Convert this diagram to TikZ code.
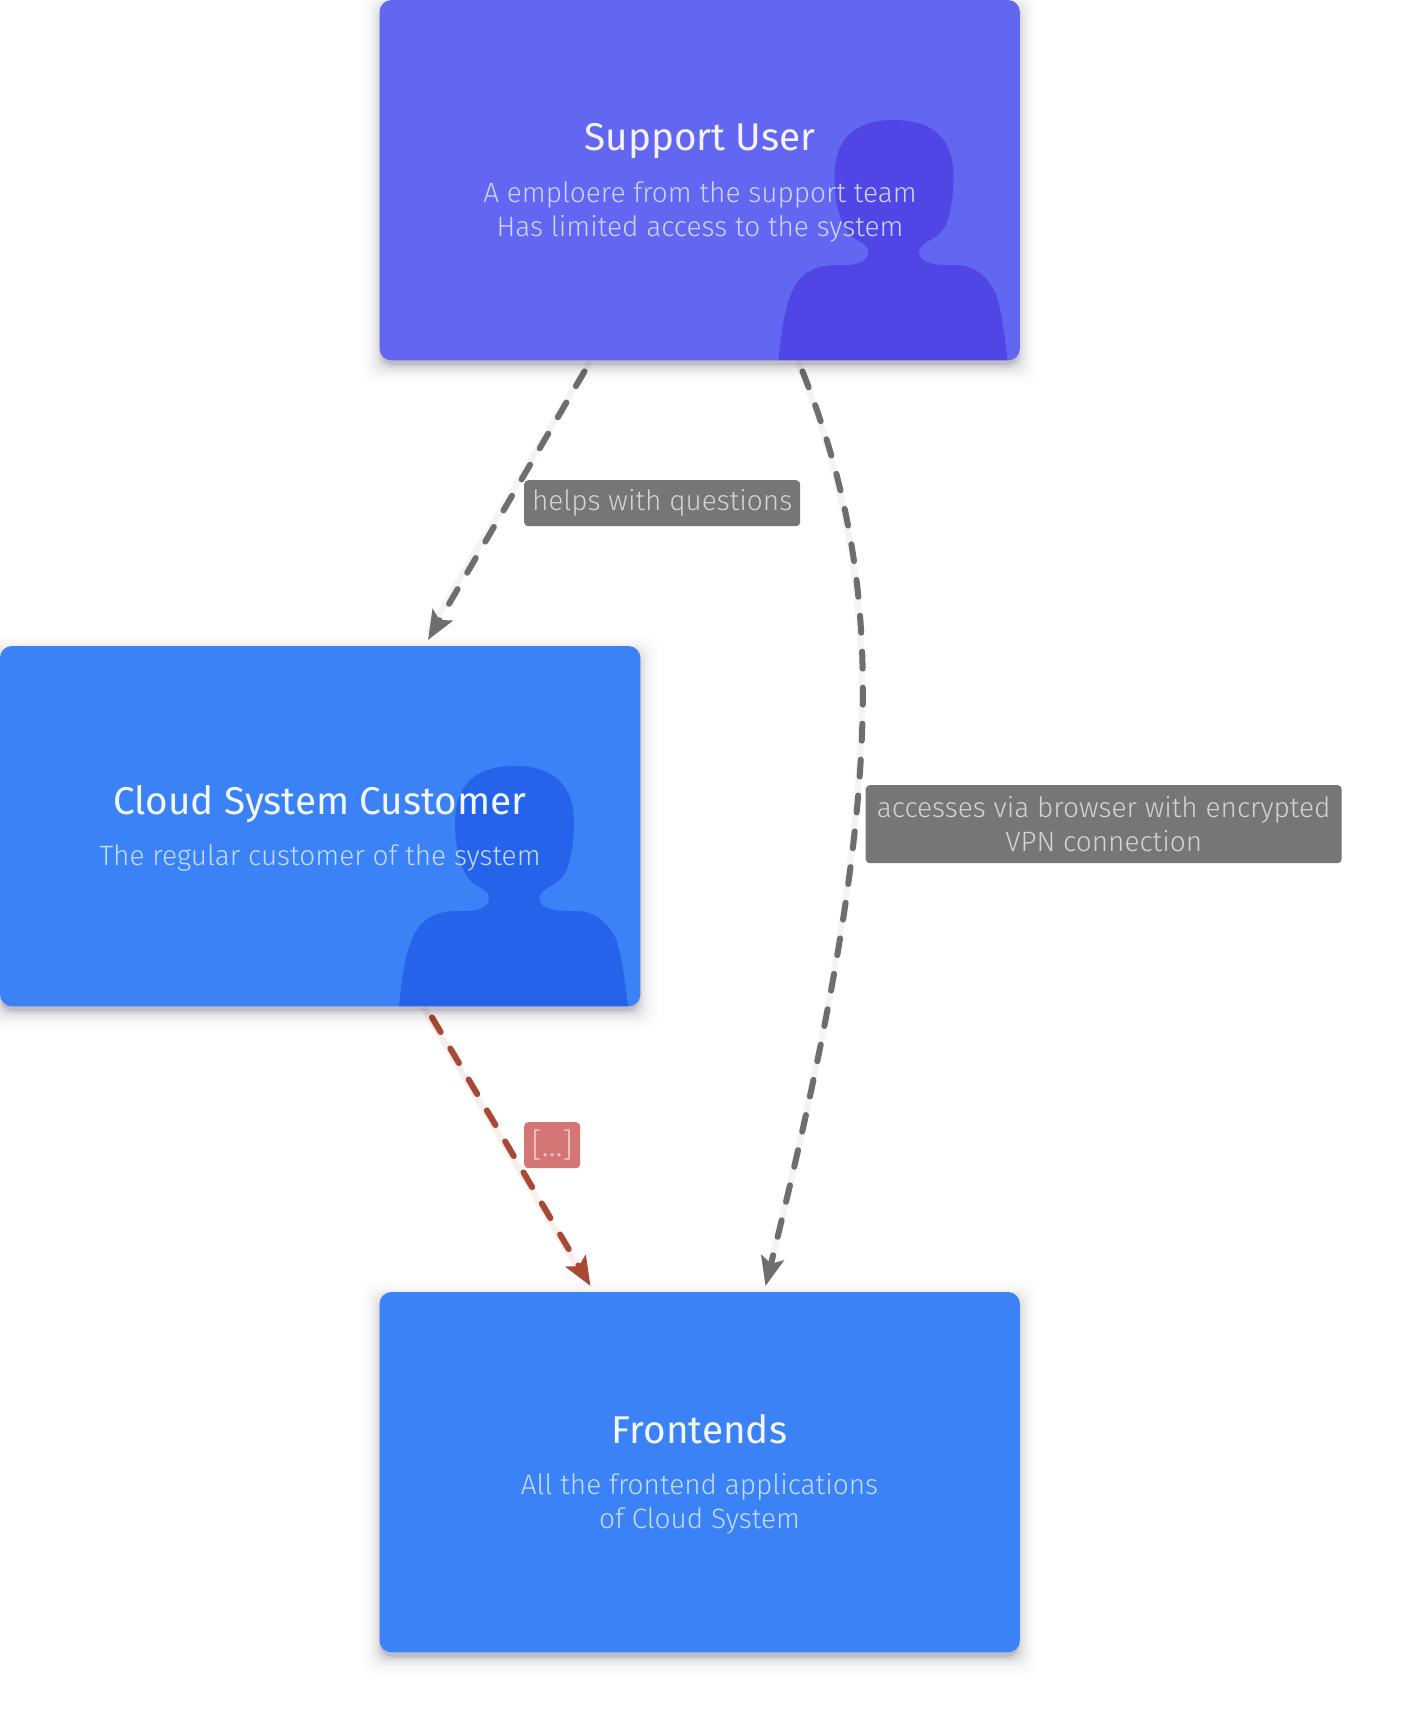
\documentclass[tikz,border=0pt]{standalone}
\usepackage{fontspec}
\usetikzlibrary{arrows.meta,calc}
\setmainfont{Fira Sans}
\newfontfamily\lightfont{Fira Sans Light}
\definecolor{violetcard}{HTML}{6366F1}
\definecolor{violetfig}{HTML}{4F46E5}
\definecolor{bluecard}{HTML}{3B82F6}
\definecolor{bluefig}{HTML}{2563EB}
\definecolor{violetdesc}{HTML}{CBD5FE}
\definecolor{bluedesc}{HTML}{C3DDFE}
\definecolor{greyedge}{HTML}{6E6E6E}
\definecolor{greyhalo}{HTML}{F4F4F4}
\definecolor{rededge}{HTML}{A94834}
\definecolor{redhalo}{HTML}{F7EFED}
\definecolor{greylabel}{HTML}{757678}
\definecolor{greylabeltext}{HTML}{D2D3D3}
\definecolor{redlabel}{HTML}{D47676}
\definecolor{redlabeltext}{HTML}{F3C6C2}
\tikzset{
  x=1pt,y=-1pt,
  card/.style={rectangle,rounded corners=12pt,minimum width=640pt,minimum height=360pt,inner sep=0pt,anchor=north west},
  cardtitle/.style={font=\fontsize{38.7}{46}\selectfont,anchor=center,inner sep=0pt},
  carddesc/.style={font=\lightfont\fontsize{28}{34}\selectfont,anchor=center,inner sep=0pt,align=center},
  edgelabel/.style={rectangle,rounded corners=4pt,inner sep=0pt,anchor=north west,align=center,font=\lightfont\fontsize{28}{34}\selectfont},
  halo/.style={line width=6.5pt},
  dashedge/.style={line width=6pt,line cap=round,dash pattern=on 17pt off 19pt},
  headtip/.style={-{Stealth[length=29pt,width=23pt,inset=6pt]}},
}
\newcommand{\softshadow}[2]{%
  \foreach \g/\o in {18/.008,15/.009,12/.011,9/.014,7/.018,5/.022,3/.028,1.5/.035,0/.05,-1.5/.08}{
    \fill[black!85!blue,opacity=\o,rounded corners=12pt]
      ($(#1.north west)+(-\g,-\g+#2)$) rectangle ($(#1.south east)+(\g,\g+#2)$);
  }%
}
\newcommand{\silhouette}[2]{%
  \fill[#2,shift={(#1.north west)},xshift=-378pt]
    (777,360) .. controls (780,330) and (783,310) .. (790,293)
    .. controls (797,275) and (812,265) .. (835,265)
    -- (845,265) .. controls (858,265) and (867,260) .. (867,252)
    .. controls (867,245) and (860,243) .. (851,237)
    .. controls (838,226) and (833,200) .. (833,177)
    .. controls (833,140) and (852,120) .. (892,120)
    .. controls (933,120) and (952,140) .. (952,177)
    .. controls (952,198) and (948,222) .. (941,230)
    .. controls (935,240) and (917.5,242) .. (917.5,252)
    .. controls (917.5,262) and (930,265) .. (945,265)
    -- (954,265) .. controls (975,265) and (988,280) .. (994,293)
    .. controls (1000,310) and (1003,335) .. (1006,360) -- cycle;
}
\begin{document}
\begin{tikzpicture}
\useasboundingbox (0,0) rectangle (1412,1732);
\fill[white] (0,0) rectangle (1412,1732);

\node[card] (support) at (379.5,0) {};
\node[card] (customer) at (0,646) {};
\node[card] (frontends) at (379.5,1292) {};

% connectors
\draw[halo,greyhalo] ([xshift=211pt]support.south west) -- ([xshift=428pt,yshift=14pt]customer.north west);
\draw[headtip,dashedge,greyedge] ([xshift=205pt,yshift=-11pt]support.south west) -- ([xshift=428pt,yshift=6pt]customer.north west);

\draw[halo,greyhalo] ([xshift=418pt]support.south west)
  .. controls +(92,230) and ([xshift=506pt,yshift=490pt]frontends.north west) .. ([xshift=388pt,yshift=14pt]frontends.north west);
\draw[headtip,dashedge,greyedge] ([xshift=423pt,yshift=-11pt]support.south west)
  .. controls +(87,219) and ([xshift=506pt,yshift=490pt]frontends.north west) .. ([xshift=386pt,yshift=6pt]frontends.north west);

\draw[halo,redhalo] ([xshift=423pt]customer.south west) -- ([xshift=203pt,yshift=16pt]frontends.north west);
\draw[headtip,dashedge,rededge] ([xshift=432pt,yshift=-11pt]customer.south west) -- ([xshift=211pt,yshift=6pt]frontends.north west);

% cards
\softshadow{support}{6}
\softshadow{customer}{6}
\softshadow{frontends}{6}
\fill[violetcard,rounded corners=12pt] (support.north west) rectangle (support.south east);
\fill[bluecard,rounded corners=12pt] (customer.north west) rectangle (customer.south east);
\fill[bluecard,rounded corners=12pt] (frontends.north west) rectangle (frontends.south east);
\silhouette{support}{violetfig}
\silhouette{customer}{bluefig}

% card texts
\node[cardtitle,text=violetcard!8!white] (supportT) at (700,141) {Support User};
\node[carddesc,text=violetdesc] (supportD) at (700,212) {A emploere from the support team\\Has limited access to the system};
\node[cardtitle,text=bluecard!6!white] (customerT) at (320,804) {Cloud System Customer};
\node[carddesc,text=bluedesc] (customerD) at (320,858) {The regular customer of the system};
\node[cardtitle,text=bluecard!6!white] (frontT) at (699.5,1429) {Frontends};
\node[carddesc,text=bluedesc] (frontD) at (699.5,1504) {All the frontend applications\\of Cloud System};

% edge labels
\node[edgelabel,fill=greylabel,text=greylabeltext,minimum width=276pt,minimum height=46pt] (lab1) at (524,480) {helps with questions};
\node[edgelabel,fill=greylabel,text=greylabeltext,minimum width=476pt,minimum height=78pt] (lab2) at (865.5,785) {accesses via browser with encrypted\\VPN connection};
\node[edgelabel,fill=redlabel,text=redlabeltext,minimum width=56pt,minimum height=46pt,font=\lightfont\fontsize{33}{34}\selectfont] (lab3) at (524,1122) {[...]};
\end{tikzpicture}
\end{document}
